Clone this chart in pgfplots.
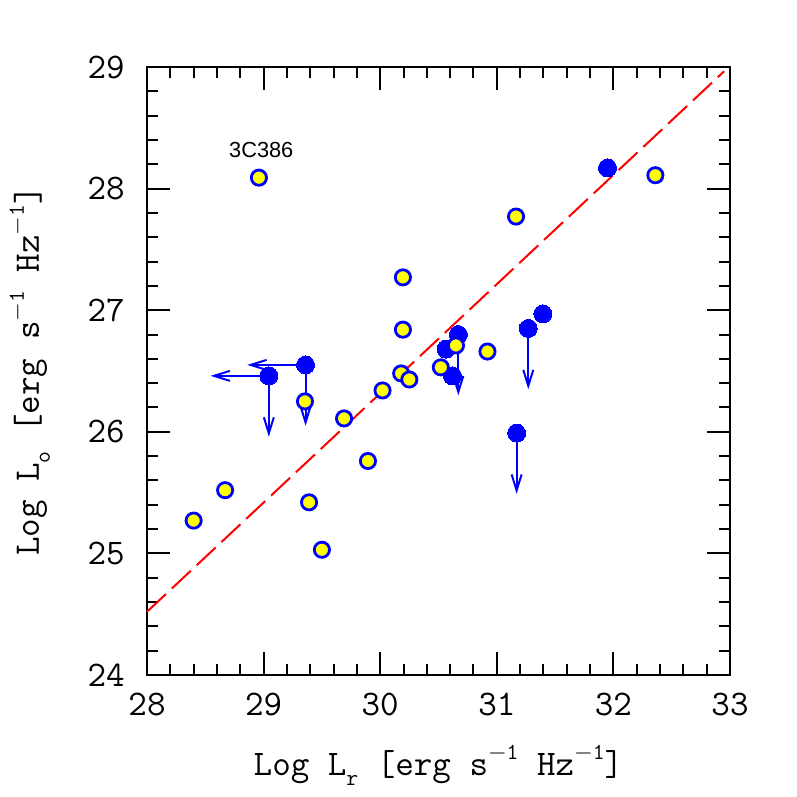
\documentclass[border=0pt]{standalone}
\usepackage{pgfplots}
\pgfplotsset{compat=1.18}
\usepackage{fontspec}
\newfontfamily\labsans{Liberation Sans}
\usetikzlibrary{arrows.meta}
\definecolor{pblue}{RGB}{0,0,255}
\definecolor{pyellow}{RGB}{255,255,0}
\newcommand{\sups}[1]{\raisebox{0.42em}{\fontsize{11.5}{12}\selectfont\ttfamily #1}}
\newcommand{\subs}[1]{\raisebox{-0.3em}{\fontsize{11.5}{12}\selectfont\ttfamily #1}}
\begin{document}
\begin{tikzpicture}
\useasboundingbox (-73.5pt,-61pt) rectangle (325pt,337.5pt);
\begin{axis}[
  scale only axis, width=291.5pt, height=304pt,
  xmin=28, xmax=33, ymin=24, ymax=29,
  xtick={28,29,30,31,32,33}, ytick={24,25,26,27,28,29},
  minor x tick num=4, minor y tick num=4,
  tick align=inside, xtick pos=both, ytick pos=both,
  major tick length=11.5pt, minor tick length=5.5pt,
  axis line style={line width=1pt},
  every tick/.style={black, line width=1pt},
  /pgf/number format/assume math mode=true,
  ticklabel style={font=\fontsize{18}{20}\selectfont\ttfamily},
  xticklabel style={anchor=base, yshift=-20pt, inner sep=0pt},
  yticklabel style={anchor=east, xshift=-11pt, inner sep=0pt},
  label style={font=\fontsize{18}{20}\selectfont\ttfamily},
  xlabel={Log L\subs{r} [erg s\sups{\(-\)1} Hz\sups{\(-\)1}]},
  ylabel={Log L\subs{o} [erg s\sups{\(-\)1} Hz\sups{\(-\)1}]},
  xlabel style={at={(axis description cs:0.5,0)}, anchor=base, yshift=-50pt},
  ylabel style={at={(axis description cs:0,0.5)}, anchor=base, yshift=54pt},
  clip=false,
]
% regression line
\addplot[red, line width=1pt, dash pattern=on 13pt off 4pt, no marks] coordinates {(28,24.52) (32.95,28.965)};
% upper limit arrows
\addplot[pblue, line width=1pt, -{Straight Barb[length=8pt,width=5pt,line width=1pt]},
  quiver={u=\thisrow{u}, v=\thisrow{v}}, no marks] table {
x y u v
29.045 26.46 -0.5 0
29.045 26.46 0 -0.5
29.36 26.55 -0.5 0
29.36 26.55 0 -0.5
30.67 26.80 0 -0.5
31.27 26.85 0 -0.5
31.17 25.99 0 -0.5
};
% blue filled points
\addplot[only marks, mark=*, mark size=4.5pt, draw=none, fill=pblue, mark options={draw=pblue, fill=pblue, line width=0pt}] table {
x y
29.045 26.46
29.36 26.55
30.67 26.80
30.565 26.68
30.62 26.46
31.395 26.97
31.27 26.85
31.17 25.99
31.95 28.17
};
% yellow points
\addplot[only marks, mark=*, mark size=3.8pt, mark options={draw=pblue, fill=pyellow, line width=1.4pt}] table {
x y
28.96 28.09
32.36 28.11
31.165 27.77
30.195 27.27
30.195 26.84
30.18 26.48
30.25 26.43
30.02 26.34
30.52 26.53
30.65 26.71
30.92 26.66
29.355 26.25
29.69 26.11
29.895 25.76
28.67 25.52
28.40 25.27
29.39 25.42
29.50 25.03
};
\node[font=\labsans\fontsize{10.9}{12}\selectfont, anchor=center] at (axis cs:28.98,28.32) {3C386};
\end{axis}
\end{tikzpicture}
\end{document}
